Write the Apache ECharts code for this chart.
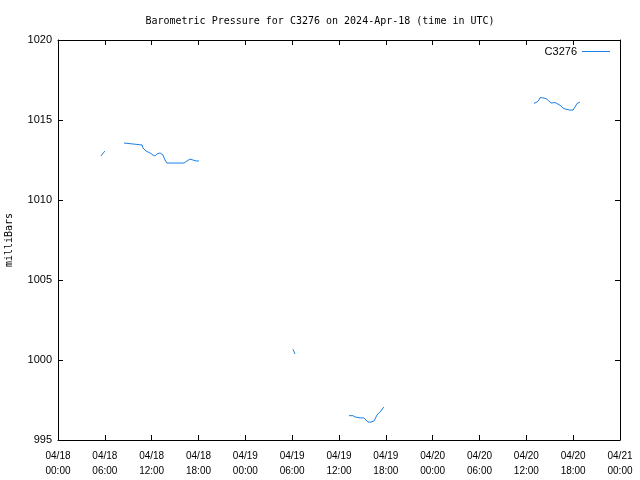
<!DOCTYPE html>
<html><head><meta charset="utf-8">
<script src="https://cdn.jsdelivr.net/npm/echarts@6/dist/echarts.min.js"></script>
<style>html,body{margin:0;padding:0;background:#fff}#c{width:640px;height:480px}</style>
</head><body><div id="c"></div>
<script>
// hours since 2024-04-18 00:00 UTC
const hours = [5.5, 6.0, null,
  8.46, 8.71, 10.76, 10.89, 11.27, 11.79, 12.17, 12.43, 12.68, 13.07, 13.32, 13.45, 13.71, 13.96, 14.6, 16.14, 16.53, 16.91, 17.29, 17.68, 18.06, null,
  30.1, 30.36, null,
  37.28, 37.79, 38.05, 38.3, 38.69, 39.2, 39.46, 39.71, 40.1, 40.48, 40.61, 40.87, 41.12, 41.38, 41.63, 41.76, null,
  60.98, 61.36, 61.62, 61.75, 62.13, 62.52, 62.64, 62.9, 63.16, 63.41, 63.67, 63.93, 64.18, 64.44, 64.69, 64.95, 65.2, 65.59, 65.98, 66.23, 66.49, 66.74, 66.87];
const pressure = [1012.75, 1013.06, null,
  1013.56, 1013.44, 1013.44, 1013.25, 1013.06, 1012.94, 1012.81, 1012.75, 1012.88, 1012.94, 1012.94, 1012.81, 1012.5, 1012.31, 1012.31, 1012.31, 1012.44, 1012.56, 1012.5, 1012.44, 1012.44, null,
  1000.67, 1000.38, null,
  996.52, 996.52, 996.44, 996.5, 996.38, 996.38, 996.25, 996.12, 996.12, 996.19, 996.25, 996.56, 996.69, 996.81, 997.0, 997.06, null,
  1016.04, 1016.12, 1016.25, 1016.4, 1016.38, 1016.34, 1016.31, 1016.19, 1016.06, 1016.03, 1016.09, 1016.03, 1015.94, 1015.88, 1015.75, 1015.69, 1015.62, 1015.62, 1015.62, 1015.81, 1016.03, 1016.12, 1016.12];
const xTickLabels = ['04/18\n00:00','04/18\n06:00','04/18\n12:00','04/18\n18:00','04/19\n00:00','04/19\n06:00','04/19\n12:00','04/19\n18:00','04/20\n00:00','04/20\n06:00','04/20\n12:00','04/20\n18:00','04/21\n00:00'];
const yTicks = [995, 1000, 1005, 1010, 1015, 1020];
const seriesName = 'C3276';

const data = hours.map((h, i) => h === null ? [null, null] : [h, pressure[i]]);
const mono = 'DejaVu Sans Mono';
const sans = 'Liberation Sans';
const tick = {show: true, inside: true, length: 5, lineStyle: {color: '#000'}};
const axLine = {show: true, onZero: false, lineStyle: {color: '#000', width: 1}};
const chart = echarts.init(document.getElementById('c'));
chart.setOption({
  animation: false,
  backgroundColor: '#fff',
  title: {text: 'Barometric Pressure for C3276 on 2024-Apr-18 (time in UTC)', left: 'center', top: 11,
    textStyle: {fontFamily: mono, fontSize: 10, fontWeight: 'normal', color: '#000'}},
  legend: {data: [seriesName], right: 25, top: 41, align: 'right', itemWidth: 28, itemHeight: 1, itemGap: 5,
    icon: 'rect', textStyle: {fontFamily: sans, fontSize: 11, color: '#000'}},
  grid: {left: 58, right: 20, top: 40, bottom: 40, show: false, containLabel: false, outerBoundsMode: 'none'},
  xAxis: [{type: 'value', min: 0, max: 72, interval: 6, position: 'bottom',
    axisLine: axLine, axisTick: tick, splitLine: {show: false},
    axisLabel: {fontFamily: sans, fontSize: 10, color: '#000', lineHeight: 15, margin: 9,
      formatter: v => xTickLabels[Math.round(v / 6)]}},
    {type: 'value', min: 0, max: 72, interval: 6, position: 'top',
    axisLine: axLine, axisTick: tick, axisLabel: {show: false}, splitLine: {show: false}}],
  yAxis: [{type: 'value', min: yTicks[0], max: yTicks[yTicks.length - 1], interval: 5, position: 'left',
    name: 'milliBars', nameLocation: 'middle', nameRotate: 90, nameGap: 44,
    nameTextStyle: {fontFamily: mono, fontSize: 10, color: '#000'},
    axisLine: axLine, axisTick: tick, splitLine: {show: false},
    axisLabel: {fontFamily: sans, fontSize: 11, color: '#000', margin: 6, formatter: v => String(v)}},
    {type: 'value', min: yTicks[0], max: yTicks[yTicks.length - 1], interval: 5, position: 'right',
    axisLine: axLine, axisTick: tick, axisLabel: {show: false}, splitLine: {show: false}}],
  series: [{name: seriesName, type: 'line', data: data, showSymbol: false, connectNulls: false,
    lineStyle: {color: '#1a80e6', width: 1}, itemStyle: {color: '#1a80e6'}}]
});
</script></body></html>
